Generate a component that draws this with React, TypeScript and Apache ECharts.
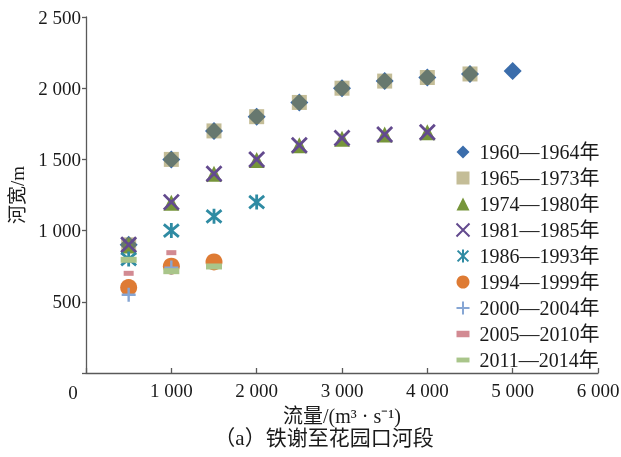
import React, { useEffect, useRef } from "react";
import * as echarts from "echarts";

// ---- data ----
const legendNames = [
  "1960—1964年",
  "1965—1973年",
  "1974—1980年",
  "1981—1985年",
  "1986—1993年",
  "1994—1999年",
  "2000—2004年",
  "2005—2010年",
  "2011—2014年",
];

const s1960: [number, number][] = [
  [500, 900], [1000, 1500], [1500, 1700], [2000, 1800], [2500, 1900],
  [3000, 2000], [3500, 2050], [4000, 2075], [4500, 2100], [5000, 2120],
];
const s1965: [number, number][] = [
  [500, 900], [1000, 1500], [1500, 1700], [2000, 1800], [2500, 1900],
  [3000, 2000], [3500, 2050], [4000, 2075], [4500, 2100],
];
const s1974: [number, number][] = [
  [500, 895], [1000, 1195], [1500, 1400], [2000, 1495], [2500, 1600],
  [3000, 1645], [3500, 1675], [4000, 1690],
];
const s1981: [number, number][] = [
  [500, 900], [1000, 1200], [1500, 1400], [2000, 1500], [2500, 1600],
  [3000, 1650], [3500, 1675], [4000, 1690],
];
const s1986: [number, number][] = [
  [500, 800], [1000, 1000], [1500, 1100], [2000, 1200],
];
const s1994: [number, number][] = [
  [500, 600], [1000, 750], [1500, 780],
];
const s2000: [number, number][] = [
  [500, 550], [1000, 740],
];
const s2005: [number, number][] = [
  [500, 700], [1000, 845],
];
const s2011: [number, number][] = [
  [500, 795], [1000, 715], [1500, 748],
];

const xTicks = [0, 1000, 2000, 3000, 4000, 5000, 6000];
const yTicks = [0, 500, 1000, 1500, 2000, 2500];

const FONT = "Liberation Serif, Noto Sans CJK SC, serif";
const TXT = "#1a1a1a";

const fmt = (v: number) => {
  if (v === 0) return "";
  const s = String(v);
  return s.length > 3 ? s.slice(0, s.length - 3) + " " + s.slice(-3) : s;
};

export default function App() {
  const ref = useRef<HTMLDivElement>(null);
  useEffect(() => {
    if (!ref.current) return;
    const chart = echarts.init(ref.current, undefined, { renderer: "svg" });
    const mk = (
      name: string,
      data: [number, number][],
      symbol: string,
      size: number | number[],
      itemStyle: any
    ) => ({
      type: "scatter",
      name,
      data,
      symbol,
      symbolSize: size,
      itemStyle: { opacity: 1, ...itemStyle },
      emphasis: { disabled: true },
    });
    chart.setOption({
      animation: false,
      textStyle: { fontFamily: FONT },
      grid: {
        left: 86,
        right: 23,
        top: 17,
        bottom: 84,
        containLabel: false,
        outerBoundsMode: "none",
      },
      xAxis: {
        type: "value",
        min: xTicks[0],
        max: xTicks[xTicks.length - 1],
        interval: 1000,
        name: "流量/(m³ · s⁻¹)",
        nameLocation: "middle",
        nameGap: 33,
        nameTextStyle: { fontFamily: FONT, fontSize: 20, color: TXT },
        axisLine: { lineStyle: { color: "#595959", width: 1.3 } },
        axisTick: { inside: true, length: 5, lineStyle: { color: "#595959", width: 1.3 } },
        axisLabel: {
          margin: 8,
          fontFamily: FONT,
          fontSize: 19,
          color: TXT,
          formatter: fmt,
        },
        splitLine: { show: false },
      },
      yAxis: {
        type: "value",
        min: yTicks[0],
        max: yTicks[yTicks.length - 1],
        interval: 500,
        name: "河宽/m",
        nameLocation: "middle",
        nameGap: 54,
        nameTextStyle: { fontFamily: FONT, fontSize: 19, color: TXT },
        axisLine: { show: true, lineStyle: { color: "#595959", width: 1.3 } },
        axisTick: { show: true, inside: false, length: 4, lineStyle: { color: "#595959", width: 1.3 } },
        axisLabel: {
          margin: 5,
          fontFamily: FONT,
          fontSize: 19,
          color: TXT,
          formatter: fmt,
        },
        splitLine: { show: false },
      },
      legend: {
        orient: "vertical",
        left: 454,
        top: 142,
        padding: 0,
        itemWidth: 13,
        itemHeight: 13,
        itemGap: 6,
        data: legendNames,
        textStyle: {
          fontFamily: FONT,
          fontSize: 20,
          color: TXT,
          padding: [0, 0, 0, 5],
        },
      },
      graphic: [
        {
          type: "text",
          x: 73,
          y: 392,
          style: {
            text: "0",
            font: `19px ${FONT}`,
            fill: TXT,
            align: "center",
            verticalAlign: "middle",
          },
        },
        {
          type: "text",
          x: 324,
          y: 438,
          style: {
            text: "（a）铁谢至花园口河段",
            font: `21px ${FONT}`,
            fill: TXT,
            align: "center",
            verticalAlign: "middle",
          },
        },
      ],
      series: [
        mk(legendNames[0], s1960, "diamond", 18, { color: "#3b6dab" }),
        mk(legendNames[1], s1965, "rect", 15, { color: "rgba(143,130,58,0.53)" }),
        mk(legendNames[2], s1974, "triangle", 16, { color: "#76953a" }),
        mk(legendNames[3], s1981, "path://M0,0L10,10M10,0L0,10", 15, {
          color: "none",
          borderColor: "#634a8e",
          borderWidth: 2.8,
        }),
        mk(legendNames[4], s1986, "path://M0,0L10,10M10,0L0,10M5,-1L5,11", 15, {
          color: "none",
          borderColor: "#2f8ba3",
          borderWidth: 2.8,
        }),
        mk(legendNames[5], s1994, "circle", 17, { color: "#de7b34" }),
        mk(legendNames[6], s2000, "path://M5,0L5,10M0,5L10,5", 14, {
          color: "none",
          borderColor: "#86a6d4",
          borderWidth: 2.4,
        }),
        mk(legendNames[7], s2005, "path://M0,0h10v5h-10z", [10, 5], { color: "#d28a92" }),
        mk(legendNames[8], s2011, "path://M0,0h16v6h-16z", [16, 6], { color: "#a9c58a" }),
      ],
    });
    return () => chart.dispose();
  }, []);
  return (
    <div
      ref={ref}
      style={{ position: "fixed", left: 0, top: 0, width: 621, height: 457 }}
    />
  );
}
